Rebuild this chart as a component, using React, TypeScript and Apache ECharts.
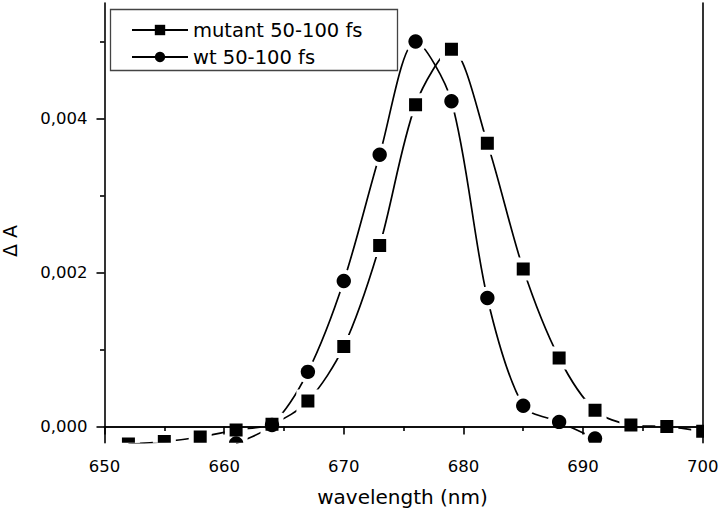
import React, { useEffect, useRef } from "react";
import * as echarts from "echarts";

const mutantX = [652, 655, 658, 661, 664, 667, 670, 673, 676, 679, 682, 685, 688, 691, 694, 697, 700];
const mutantY = [-0.000228, -0.000196, -0.000136, -0.000045, 0.00003, 0.00033, 0.00104, 0.00235, 0.00418, 0.0049, 0.00368, 0.002045, 0.00089, 0.00021, 0.00002, 0.0, -0.00006];

const wtX = [661, 664, 667, 670, 673, 676, 679, 682, 685, 688, 691];
const wtY = [-0.00022, 0.00002, 0.00071, 0.00189, 0.00353, 0.005, 0.004225, 0.00167, 0.00027, 0.00006, -0.000156];

const yMajorTicks = [0, 0.002, 0.004];
const yMinorTicks = [0.001, 0.003, 0.005];
const seriesNames = ["mutant 50-100 fs", "wt 50-100 fs"];

const FONT = "DejaVu Sans";
const Y_MIN = -0.00021;
const Y_MAX = 0.0055;

function pairs(xs: number[], ys: number[]) {
  return xs.map((x, i) => [x, ys[i]]);
}

function markerRender(kind: "rect" | "circle", halo: boolean) {
  return (params: any, api: any) => {
    const p = api.coord([api.value(0), api.value(1)]);
    const fill = halo ? "#ffffff" : "#000000";
    if (kind === "rect") {
      const s = halo ? 23 : 13;
      return {
        type: "rect",
        shape: { x: p[0] - s / 2, y: p[1] - s / 2, width: s, height: s },
        style: { fill },
      };
    }
    const r = halo ? 11.5 : 7.2;
    return { type: "circle", shape: { cx: p[0], cy: p[1], r }, style: { fill } };
  };
}

export default function App() {
  const ref = useRef<HTMLDivElement>(null);
  useEffect(() => {
    if (!ref.current) return;
    const chart = echarts.init(ref.current, null, { renderer: "svg" });
    const mutantData = pairs(mutantX, mutantY);
    const wtData = pairs(wtX, wtY);
    const fmt = (v: number) => v.toFixed(3).replace(".", ",");
    const lineStyleAxis = { color: "#000", width: 1.6 };
    chart.setOption({
      animation: false,
      backgroundColor: "#fff",
      textStyle: { fontFamily: FONT, color: "#000" },
      grid: { left: 104.5, right: 17.3, top: 3, bottom: 68.3, show: false, outerBoundsMode: "none" },
      legend: {
        data: [{ name: seriesNames[0] }, { name: seriesNames[1] }],
        orient: "vertical",
        left: 131,
        top: 20,
        padding: 0,
        itemWidth: 56,
        itemHeight: 13,
        itemGap: 7,
        selectedMode: false,
        textStyle: { fontFamily: FONT, fontSize: 19.5, color: "#000", lineHeight: 20 },
      },
      xAxis: [
        {
          type: "value",
          min: 650,
          max: 700,
          interval: 10,
          z: 10,
          axisLine: { show: true, lineStyle: lineStyleAxis },
          axisTick: { show: true, length: 8, lineStyle: lineStyleAxis },
          minorTick: { show: true, splitNumber: 2, length: 4.5, lineStyle: lineStyleAxis },
          splitLine: { show: false },
          minorSplitLine: { show: false },
          axisLabel: { fontFamily: FONT, fontSize: 16.5, color: "#000", margin: 15 },
        },
        {
          type: "value",
          position: "top",
          min: 650,
          max: 700,
          z: 10,
          axisLine: { show: true, lineStyle: lineStyleAxis },
          axisTick: { show: false },
          axisLabel: { show: false },
          splitLine: { show: false },
        },
      ],
      yAxis: [
        {
          type: "value",
          min: Y_MIN,
          max: Y_MAX,
          z: 10,
          axisLine: { show: true, lineStyle: lineStyleAxis },
          axisTick: { show: true, length: 8, lineStyle: lineStyleAxis, customValues: yMajorTicks },
          axisLabel: {
            fontFamily: FONT,
            fontSize: 16.5,
            color: "#000",
            margin: 17,
            customValues: yMajorTicks,
            formatter: fmt,
          },
          splitLine: { show: false },
        },
        {
          type: "value",
          position: "left",
          min: Y_MIN,
          max: Y_MAX,
          z: 10,
          axisLine: { show: false },
          axisTick: { show: true, length: 4.5, lineStyle: lineStyleAxis, customValues: yMinorTicks },
          axisLabel: { show: false },
          splitLine: { show: false },
        },
        {
          type: "value",
          position: "right",
          min: Y_MIN,
          max: Y_MAX,
          z: 10,
          axisLine: { show: true, lineStyle: lineStyleAxis },
          axisTick: { show: false },
          axisLabel: { show: false },
          splitLine: { show: false },
        },
      ],
      graphic: [
        {
          type: "rect",
          z: 50,
          shape: { x: 110.5, y: 9.5, width: 287, height: 61 },
          style: { fill: "none", stroke: "#444", lineWidth: 1.3 },
        },
        {
          type: "text",
          x: 402.5,
          y: 497,
          style: {
            text: "wavelength (nm)",
            font: `20px "${FONT}"`,
            fill: "#000",
            align: "center",
            verticalAlign: "middle",
          },
        },
        {
          type: "text",
          x: 9.5,
          y: 241,
          rotation: Math.PI / 2,
          style: {
            text: "Δ A",
            font: `19px "${FONT}"`,
            fill: "#000",
            align: "center",
            verticalAlign: "middle",
          },
        },
      ],
      series: [
        {
          name: seriesNames[1],
          type: "line",
          data: wtData,
          smooth: 0.3,
          symbol: "circle",
          showSymbol: false,
          lineStyle: { color: "#000", width: 1.7 },
          itemStyle: { color: "#000" },
          z: 2,
        },
        {
          name: "wt-halo",
          type: "custom",
          data: wtData,
          clip: true,
          renderItem: markerRender("circle", true),
          z: 3,
        },
        {
          name: seriesNames[0],
          type: "line",
          data: mutantData,
          smooth: 0.3,
          symbol: "rect",
          showSymbol: false,
          lineStyle: { color: "#000", width: 1.7 },
          itemStyle: { color: "#000" },
          z: 4,
        },
        {
          name: "mutant-halo",
          type: "custom",
          data: mutantData,
          clip: true,
          renderItem: markerRender("rect", true),
          z: 5,
        },
        {
          name: "wt-markers",
          type: "custom",
          data: wtData,
          clip: true,
          renderItem: markerRender("circle", false),
          z: 6,
        },
        {
          name: "mutant-markers",
          type: "custom",
          data: mutantData,
          clip: true,
          renderItem: markerRender("rect", false),
          z: 7,
        },
      ],
    });
    return () => chart.dispose();
  }, []);
  return (
    <div
      ref={ref}
      style={{ position: "fixed", left: 0, top: 0, width: 720, height: 511, background: "#fff" }}
    />
  );
}
